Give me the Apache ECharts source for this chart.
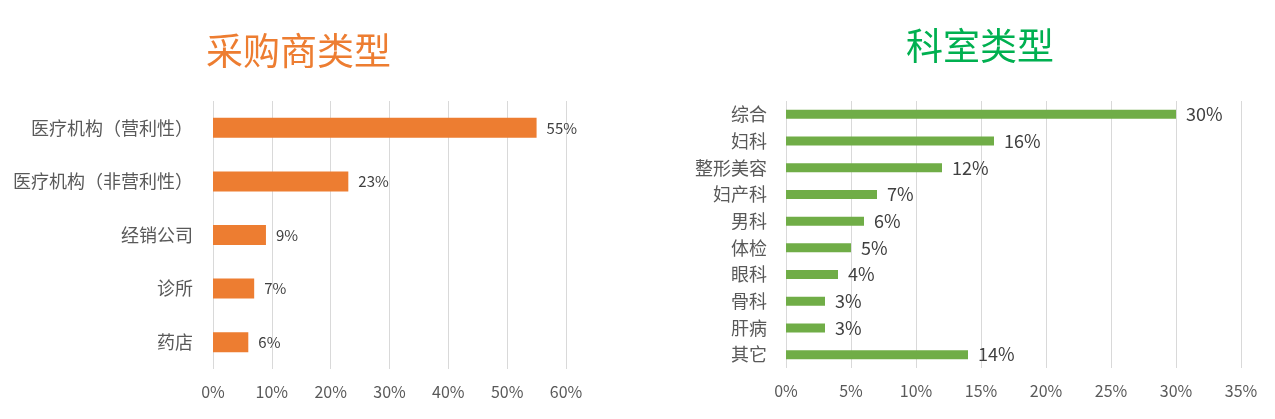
<!DOCTYPE html>
<html>
<head>
<meta charset="utf-8">
<script src="https://cdn.jsdelivr.net/npm/echarts@6/dist/echarts.min.js"></script>
<style>
html,body{margin:0;padding:0;background:#fff;}
#c{width:1275px;height:419px;}
</style>
</head>
<body>
<div id="c"></div>
<script>
const leftTitle = '采购商类型';
const leftCategories = ['医疗机构（营利性）', '医疗机构（非营利性）', '经销公司', '诊所', '药店'];
const leftValues = [55, 23, 9, 7, 6];
const leftTicks = [0, 10, 20, 30, 40, 50, 60];

const rightTitle = '科室类型';
const rightCategories = ['综合', '妇科', '整形美容', '妇产科', '男科', '体检', '眼科', '骨科', '肝病', '其它'];
const rightValues = [30, 16, 12, 7, 6, 5, 4, 3, 3, 14];
const rightTicks = [0, 5, 10, 15, 20, 25, 30, 35];

const FONT = '"Noto Sans CJK SC", "Noto Sans", sans-serif';
const chart = echarts.init(document.getElementById('c'));

function xAxisFor(gridIndex, ticks) {
  return {
    type: 'value', gridIndex: gridIndex,
    min: ticks[0], max: ticks[ticks.length - 1], interval: ticks[1] - ticks[0],
    axisLine: {show: false}, axisTick: {show: false},
    splitLine: {show: true, lineStyle: {color: '#D9D9D9', width: 1}},
    axisLabel: {formatter: '{value}%', color: '#595959', fontSize: 16, fontFamily: FONT, margin: 15}
  };
}
function yAxisFor(gridIndex, cats, fs, margin) {
  return {
    type: 'category', gridIndex: gridIndex, data: cats, inverse: true,
    axisLine: {show: false}, axisTick: {show: false},
    axisLabel: {color: '#595959', fontSize: fs, fontFamily: FONT, margin: margin}
  };
}

chart.setOption({
  backgroundColor: '#ffffff',
  animation: false,
  title: [
    {text: leftTitle, left: 206, top: 32, padding: 0,
     textStyle: {color: '#ED7D31', fontSize: 37, fontWeight: 'normal', fontFamily: FONT}},
    {text: rightTitle, left: 906, top: 27, padding: 0,
     textStyle: {color: '#00B050', fontSize: 37, fontWeight: 'normal', fontFamily: FONT}}
  ],
  grid: [
    {left: 213, right: 709, top: 101, bottom: 50, containLabel: false, outerBoundsMode: 'none'},
    {left: 786, right: 34, top: 101, bottom: 51, containLabel: false, outerBoundsMode: 'none'}
  ],
  xAxis: [xAxisFor(0, leftTicks), xAxisFor(1, rightTicks)],
  yAxis: [yAxisFor(0, leftCategories, 18, 20), yAxisFor(1, rightCategories, 18, 19)],
  series: [
    {type: 'bar', xAxisIndex: 0, yAxisIndex: 0, data: leftValues, barWidth: 20,
     itemStyle: {color: '#ED7D31'},
     label: {show: true, position: 'right', distance: 10, formatter: '{c}%', color: '#404040', fontSize: 15, fontFamily: FONT}},
    {type: 'bar', xAxisIndex: 1, yAxisIndex: 1, data: rightValues, barWidth: 9,
     itemStyle: {color: '#70AD47'},
     label: {show: true, position: 'right', distance: 10, formatter: '{c}%', color: '#404040', fontSize: 18, fontFamily: FONT}}
  ]
});
</script>
</body>
</html>
